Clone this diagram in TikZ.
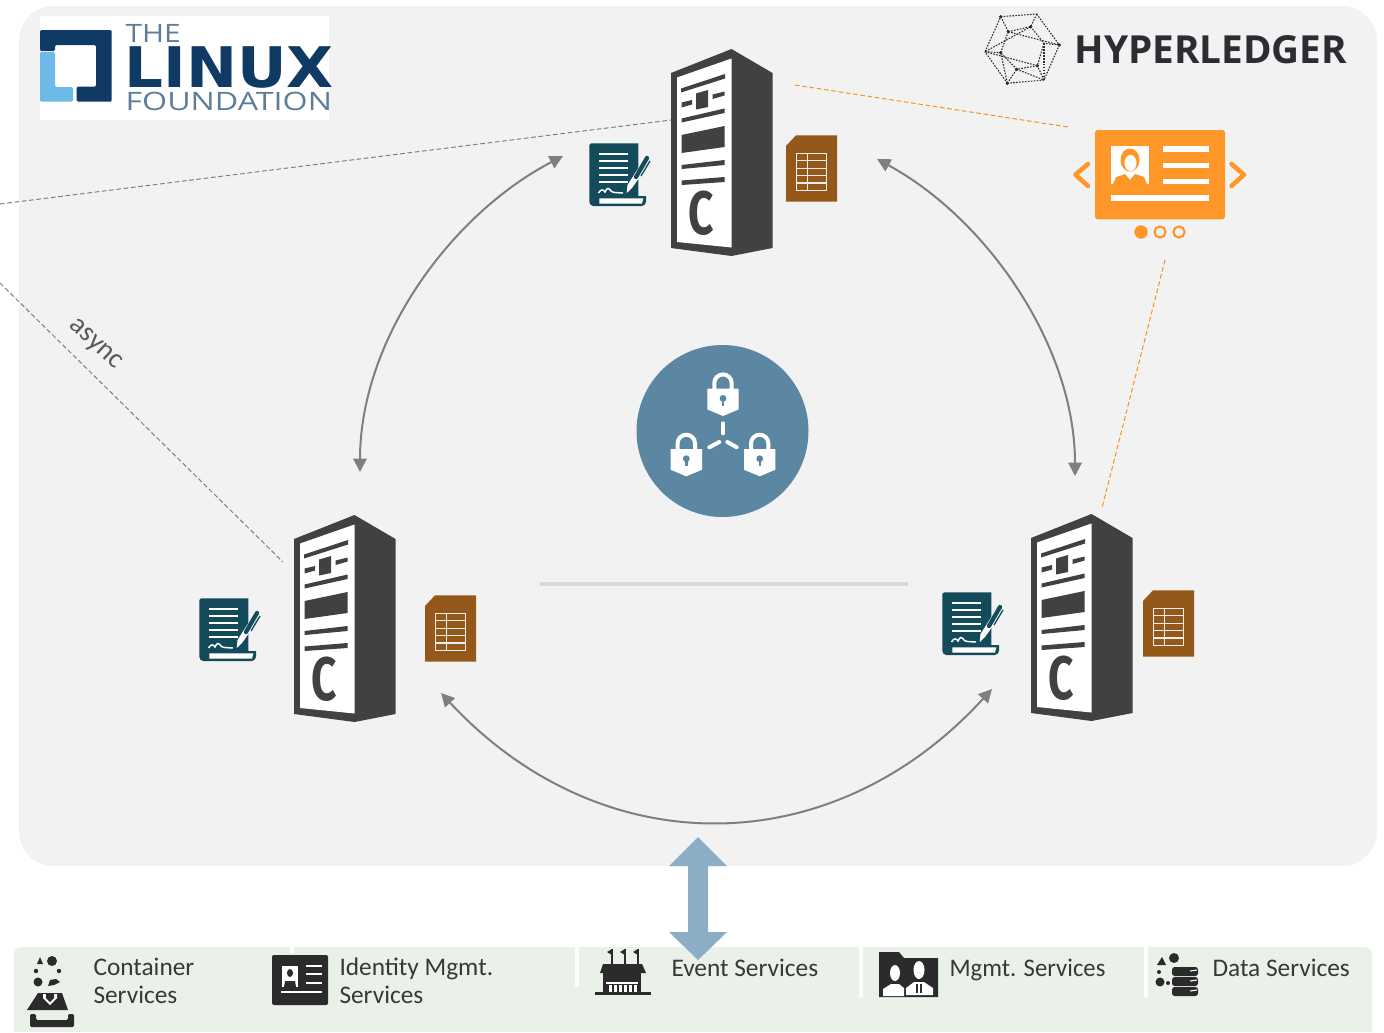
\documentclass[tikz,border=0pt]{standalone}
\usepackage{fontspec}
\setmainfont{Carlito}
\newfontfamily\logofont{Open Sans}
\newfontfamily\logoheavy{DejaVu Sans}
\newfontfamily\hlfont{Open Sans}
\newfontfamily\srvfont{Fira Sans}
\usetikzlibrary{arrows.meta}

\definecolor{panelgray}{HTML}{F2F2F2}
\definecolor{barmint}{HTML}{E9F1E9}
\definecolor{srvdark}{HTML}{414042}
\definecolor{docteal}{HTML}{134B5A}
\definecolor{sheetbrown}{HTML}{94591A}
\definecolor{sheetline}{HTML}{F0EEE8}
\definecolor{certorange}{HTML}{FF9728}
\definecolor{dashorange}{HTML}{F7931E}
\definecolor{arcgray}{HTML}{7F7F7F}
\definecolor{lockblue}{HTML}{5B87A3}
\definecolor{busblue}{HTML}{8BAEC6}
\definecolor{iconblack}{HTML}{2B2B2B}
\definecolor{lfnavy}{HTML}{0F3A63}
\definecolor{lfsky}{HTML}{6DB9E8}
\definecolor{lfthin}{HTML}{5F7C98}
\definecolor{hldark}{HTML}{2B2D33}
\definecolor{labelgray}{HTML}{383838}

\tikzset{every picture/.style={line width=0.75pt}}
\tikzset{
  every pic/.style={yscale=-1},
  syncarc/.style={draw=arcgray,line width=1.5pt,{Triangle[length=10pt,width=10pt]}-{Triangle[length=10pt,width=10pt]}},
  grayDash/.style={draw=arcgray,dash pattern=on 3.5pt off 2pt},
  orangeDash/.style={draw=dashorange,dash pattern=on 3.5pt off 2pt},
  svcLabel/.style={anchor=base west,inner sep=0pt,text=labelgray,font=\fontsize{19}{20.3}\selectfont,align=left},
  sepLine/.style={draw=white,line width=2.4pt},
  pics/server/.style={code={
    \fill[srvdark] (0,24) -- (60.5,0) -- (101.5,24) -- (101.5,199) -- (60.5,207) -- (0,199) -- cycle;
    \fill[white] (6,28.5) -- (60.5,9.5) -- (60.5,198.5) -- (6,193) -- cycle;
    \fill[srvdark] (10,39.5) -- (54,25) -- (54,29.5) -- (10,43.5) -- cycle;
    \fill[srvdark] (10.5,53.5) -- (21,51) -- (21,55.5) -- (10.5,58.5) -- cycle;
    \fill[srvdark] (25,44.5) -- (37,41) -- (37,58) -- (25,60.5) -- cycle;
    \fill[srvdark] (41.5,45.5) -- (53.5,42.5) -- (53.5,46.5) -- (41.5,50) -- cycle;
    \fill[srvdark] (10.5,69.5) -- (53.5,59.5) -- (53.5,64) -- (10.5,73.5) -- cycle;
    \fill[srvdark] (10.5,86) -- (53.5,77) -- (53.5,98) -- (10.5,104) -- cycle;
    \fill[srvdark] (10.5,116) -- (53.5,111) -- (53.5,116) -- (10.5,120) -- cycle;
    \fill[srvdark] (10.5,131.5) -- (53.5,128) -- (53.5,133) -- (10.5,136) -- cycle;
    \node (-c) [inner sep=0pt,text=srvdark,xscale=.72,font=\srvfont\bfseries\fontsize{46}{46}\selectfont] at (30.5,164) {C};
  }},
  pics/ledgerdoc/.style={code={
    \fill[docteal] (0.3,2) -- (0.3,58.7) .. controls (0.3,61) and (2,63) .. (4.3,63) -- (52.7,63) .. controls (55,63) and (57,61) .. (57,58.7) -- (57,53) -- (49.3,53) -- (49.3,0.3) -- (2,0.3) -- cycle;
    \fill[white] (10.3,55.3) -- (54.3,55.3) -- (53,60.5) -- (10.3,60.5) -- cycle;
    \foreach \ly in {11,18,25,31.7,38.7}
      \draw[white,line width=1.2pt] (10,\ly) -- (39.3,\ly);
    \draw[white,line width=1.1pt] (9.5,50) .. controls (12,46) and (14,46) .. (16,49) .. controls (18,44) and (20,45) .. (22,48) .. controls (24,50) and (27,49.5) .. (34,50);
    \fill[white] (37.7,50) -- (38.5,42) -- (50,24) -- (55,28) -- (43,45) -- cycle;
    \draw[docteal,line width=3.2pt,line cap=round] (47,34) -- (58,15);
    \draw[docteal,line width=1pt] (52,33) -- (61,18);
  }},
  pics/sheet/.style={code={
    \fill[sheetbrown] (10,0.3) -- (51,0.3) -- (51,66.7) -- (0,66.7) -- (0,11) -- cycle;
    \draw[sheetline,line width=1.1pt] (10.7,18.3) rectangle (40.7,55.7);
    \foreach \ly in {25.7,33.3,40.7,48}
      \draw[sheetline,line width=1.1pt] (10.7,\ly) -- (40.7,\ly);
    \draw[sheetline,line width=1.1pt] (21.3,18.3) -- (21.3,55.7);
  }},
  pics/padlock/.style={code={
    \draw[white,line width=3pt] (-8.7,2) -- (-8.7,-5.6) arc[start angle=180,end angle=360,radius=8.7] -- (8.7,2);
    \fill[white] (-15.7,0) -- (15.7,0) -- (15.7,20.7) -- (0,27.3) -- (-15.7,20.7) -- cycle;
    \fill[lockblue] (0,9.7) circle (3.4);
    \draw[lockblue,line width=1.8pt] (0,9.7) -- (0,17);
  }}
}

\begin{document}
\begin{tikzpicture}[x=0.75pt,y=0.75pt,yscale=-1,xscale=1]
\useasboundingbox (0,0) rectangle (1384,1032);

%Shape: panels
\fill[panelgray,rounded corners=26pt] (19,6) rectangle (1377,866);
\fill[barmint] (14,1032) -- (14,955) .. controls (14,950) and (17,947) .. (22,947) -- (1364,947) .. controls (1369,947) and (1372,950) .. (1372,955) -- (1372,1032) -- cycle;

%Free ends of the connectors
\coordinate (peerEdgeA) at (0,204);
\coordinate (srvTopEdge) at (671,120);
\coordinate (peerEdgeB) at (0,283);
\coordinate (srvLeftEdge) at (283,562);
\coordinate (srvTopCa) at (795,85);
\coordinate (certTop) at (1068,127);
\coordinate (certBottom) at (1165,260);
\coordinate (srvRightCa) at (1102,508);
\coordinate (arcTopL) at (563,156);
\coordinate (arcLeftT) at (360,472);
\coordinate (arcTopR) at (877,159);
\coordinate (arcRightT) at (1075,476);
\coordinate (arcLeftB) at (441,693);
\coordinate (arcRightB) at (992,689);
\coordinate (ruleL) at (540,584);
\coordinate (ruleR) at (908,584);

%Dashed lines
\draw[grayDash] (peerEdgeA) -- (srvTopEdge);
\draw[grayDash] (peerEdgeB) -- (srvLeftEdge);
\draw[orangeDash] (srvTopCa) -- (certTop);
\draw[orangeDash] (certBottom) -- (srvRightCa);

%Curved arrows
\draw[syncarc] (arcTopL) .. controls +(-113,59) and +(0,-132) .. (arcLeftT);
\draw[syncarc] (arcTopR) .. controls +(110,60) and +(0,-130) .. (arcRightT);
\draw[syncarc] (arcLeftB) .. controls +(160,172) and +(-160,175) .. (arcRightB);
\draw[draw=black!15,line width=3pt] (ruleL) -- (ruleR);

% Text Node
\node (asyncLabel) [inner sep=0pt,rotate=-43,text=black!65,font=\fontsize{21}{21}\selectfont] at (95,345) {async};

%Servers, ledgers and sheets
\pic (srvTop) at (671,49) {server};
\pic (srvLeft) at (294,515) {server};
\pic (srvRight) at (1031,514) {server};
\pic (docTop) at (589,143) {ledgerdoc};
\pic (docLeft) at (199,598) {ledgerdoc};
\pic (docRight) at (942,592) {ledgerdoc};
\pic (sheetTop) at (786,135) {sheet};
\pic (sheetLeft) at (425,595) {sheet};
\pic (sheetRight) at (1143,590) {sheet};

%Shape: channel circle
\fill[lockblue] (722.5,431) circle (86);
\pic at (723,388.7) {padlock};
\pic at (686.3,449) {padlock};
\pic at (759.7,449) {padlock};
\draw[white,line width=3pt,line cap=round] (723,423.3) -- (723,433.3);
\draw[white,line width=3pt,line cap=round] (709.3,447.3) -- (719.3,442);
\draw[white,line width=3pt,line cap=round] (736.7,447.3) -- (727.3,442);

%Shape: certificate card
\fill[certorange,rounded corners=2pt] (1095,130) rectangle (1225,219.3);
\fill[white] (1111,146) rectangle (1149,184);
\fill[white] (1162.7,146) rectangle (1209,152);
\fill[white] (1162.7,162.7) rectangle (1209,168);
\fill[white] (1162.7,179) rectangle (1209,184);
\fill[white] (1111,195) rectangle (1209,200.7);
\fill[certorange] (1130,160) ellipse (9.5 and 11.5);
\fill[white] (1130.5,163) ellipse (6 and 8);
\fill[certorange] (1113,184) -- (1116,177) -- (1125,174) -- (1130,180) -- (1135,174) -- (1144,177) -- (1147,184) -- cycle;
\draw[certorange,line width=3.4pt,line cap=round,line join=round] (1088,164) -- (1075.5,174.7) -- (1088,186);
\draw[certorange,line width=3.4pt,line cap=round,line join=round] (1231.5,164) -- (1244,174.7) -- (1231.5,186);
\fill[certorange] (1141,232) circle (6.7);
\draw[certorange,line width=1.6pt] (1160,232) circle (5.6);
\draw[certorange,line width=1.6pt] (1179,232) circle (5.6);

%Shape: Hyperledger mark
\foreach \ax/\ay/\bx/\by in {1000.7/16.7/1036.7/14,1036.7/14/1059.3/45,1059.3/45/1044/80,1044/80/1007.3/83.3,1007.3/83.3/985/51.7,985/51.7/1000.7/16.7,1008.3/31.7/1030.7/26.7,1030.7/26.7/1044/43.3,1044/43.3/1037.3/65.7,1037.3/65.7/1016.7/69.3,1016.7/69.3/1000.7/52.7,1000.7/52.7/1008.3/31.7,1000.7/16.7/1008.3/31.7,1036.7/14/1030.7/26.7,1059.3/45/1044/43.3,1044/80/1037.3/65.7,1007.3/83.3/1016.7/69.3,985/51.7/1000.7/52.7,1008.3/31.7/1059.3/45,1030.7/26.7/985/51.7,1044/43.3/1044/80,1037.3/65.7/985/51.7,1016.7/69.3/1044/80,1000.7/52.7/1007.3/83.3}
  \draw[hldark,line width=0.8pt,dash pattern=on 1.2pt off 1pt] (\ax,\ay) -- (\bx,\by);
\foreach \ax/\ay in {1000.7/16.7,1030.7/26.7,1059.3/45,1007.3/83.3,1000.7/52.7,1037.3/65.7,1008.3/31.7,1016.7/69.3}
  \fill[hldark] (\ax,\ay) circle (1.8);
\node (hlText) [anchor=base west,inner sep=0pt,text=hldark,xscale=1.0,font=\hlfont\bfseries\fontsize{29}{29}\selectfont] at (1074,63) {HYPERLEDGER};

%Shape: Linux Foundation mark
\fill[white] (40,16) rectangle (329,120);
\fill[lfnavy,rounded corners=1pt] (40,51) -- (40,30) -- (111.7,30) -- (111.7,101.7) -- (76.7,101.7) -- (76.7,86.7) -- (96,86.7) -- (96,45) -- (55,45) -- (55,51) -- cycle;
\fill[lfsky,rounded corners=1pt] (40,52) -- (55,52) -- (55,87) -- (73,87) -- (73,101.7) -- (40,101.7) -- cycle;
\node (lfThe) [anchor=base west,inner sep=0pt,text=lfthin,xscale=1.18,font=\logofont\fontsize{19}{19}\selectfont] at (125,42) {THE};
\node (lfLinux) [anchor=base west,inner sep=0pt,text=lfnavy,xscale=1.09,font=\logoheavy\bfseries\fontsize{42}{42}\selectfont] at (124,87) {LINUX};
\node (lfFoundation) [anchor=base west,inner sep=0pt,text=lfthin,xscale=1.27,font=\logofont\fontsize{19}{19}\selectfont] at (125,110) {FOUNDATION};

%Shape: bus arrow
\fill[busblue] (698,837) -- (727,866) -- (708,866) -- (708,932) -- (727,932) -- (698,960) -- (669,932) -- (688,932) -- (688,866) -- (669,866) -- cycle;

%Separators
\draw[sepLine] (292,947) -- (292,953);
\draw[sepLine] (577,947) -- (577,987);
\draw[sepLine] (861,947) -- (861,997);
\draw[sepLine] (1146,947) -- (1146,997);

%Shape: container icon
\fill[iconblack] (52,961) circle (5);
\fill[iconblack] (37,964) -- (40,957) -- (43,964) -- cycle;
\fill[iconblack] (36,971) circle (2.2);
\fill[iconblack] (59,971) circle (2.2);
\fill[iconblack] (38,982) circle (4.5);
\fill[iconblack] (48,986) -- (50,980) -- (56,979) -- (60,982) -- (54,985) -- cycle;
\fill[iconblack] (27,1010) -- (38,993) -- (62,993) -- (68,1010) -- cycle;
\fill[white] (43,994) -- (57,994) -- (57,998) -- (50,1005) -- (43,998) -- cycle;
\fill[iconblack] (46,994) -- (54,994) -- (54,998) -- (50,1002) -- (46,998) -- cycle;
\fill[iconblack,rounded corners=1pt] (30,1014) -- (36,1014) -- (36,1020) -- (68,1020) -- (68,1014) -- (74,1014) -- (74,1027) -- (30,1027) -- cycle;

%Shape: identity icon
\fill[iconblack,rounded corners=1.5pt] (272,955) rectangle (328,1005);
\fill[white] (282,966) rectangle (298,987);
\fill[iconblack] (290,973) ellipse (3 and 4);
\fill[iconblack] (284,987) -- (285,981) -- (295,981) -- (296,987) -- cycle;
\foreach \ly in {966,974,983}
  \draw[white,line width=1.2pt] (306,\ly) -- (322,\ly);
\draw[white,line width=1.2pt] (281,992) -- (322,992);

%Shape: event icon
\foreach \fx in {612,625,638} {
  \draw[iconblack,line width=1pt] (\fx,949) -- (\fx,964);
  \fill[iconblack] (\fx,949) -- (\fx-5,952) -- (\fx,955) -- cycle;
}
\fill[iconblack] (603,964) -- (642,964) -- (646,973) -- (600,973) -- cycle;
\fill[iconblack] (603,973) rectangle (641,992);
\fill[iconblack] (595,992) rectangle (651,995);
\fill[white] (606,982) rectangle (638,984);
\foreach \cx in {610,615,620,625,630,635}
  \fill[white] (\cx-1.5,985) rectangle (\cx+1.5,992);

%Shape: management icon
\fill[iconblack] (879,952) -- (899,952) -- (904,958) -- (938,958) -- (938,997) -- (879,997) -- cycle;
\fill[white] (895,973) ellipse (5 and 8);
\fill[white] (883,996) -- (883,989) -- (891,984) -- (899,984) -- (904,988) -- (904,996) -- cycle;
\fill[white] (919,970) ellipse (5.5 and 9);
\fill[white] (906,995) -- (906,988) -- (914,982) -- (924,982) -- (933,988) -- (933,995) -- cycle;
\draw[iconblack,line width=0.8pt] (917,984) -- (917,993);
\draw[iconblack,line width=0.8pt] (921,984) -- (921,993);

%Shape: data icon
\fill[iconblack] (1157,965) -- (1162,957) -- (1166,965) -- cycle;
\fill[iconblack] (1174,958) circle (5);
\fill[iconblack] (1159,972) circle (2);
\fill[iconblack] (1160,982) circle (4.5);
\fill[iconblack] (1168,983) circle (2);
\foreach \cy in {967,977,987}
  \fill[iconblack,rounded corners=2pt] (1172,\cy) rectangle (1198,\cy+9);
\foreach \cy in {971,981,991}
  \draw[white,line width=0.8pt] (1190,\cy) -- (1197,\cy-1);

% Text Node
\node (svcContainer) [svcLabel] at (93,1003) {Container\\Services};
\node (svcIdentity) [svcLabel] at (339,1003) {Identity Mgmt.\\Services};
\node (svcEvent) [svcLabel] at (671,976) {Event Services};
\node (svcMgmt) [svcLabel,xscale=.975] at (949,976) {Mgmt. Services};
\node (svcData) [svcLabel] at (1212,976) {Data Services};
\end{tikzpicture}
\end{document}
